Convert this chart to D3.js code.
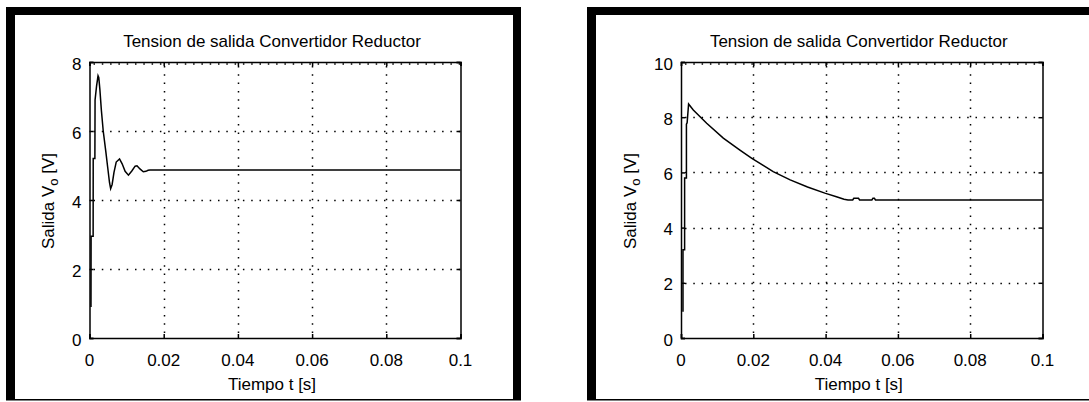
<!DOCTYPE html>
<html><head><meta charset="utf-8">
<script src="https://cdn.jsdelivr.net/npm/d3@7"></script>
<style>
html,body{margin:0;padding:0;background:#fff;}
svg{display:block;}
text{font-family:"Liberation Sans",Arial,Helvetica,sans-serif;fill:#000;}
</style></head><body>
<svg id="fig" width="1089" height="402"></svg>
<script>
// Texts shared by both figures
const chartTitle = "Tension de salida Convertidor Reductor";
const xLabel = "Tiempo t [s]";
const yLabelMain = "Salida V";
const yLabelSub = "o";
const yLabelTail = " [V]";

// Axis ticks
const xTicks = [0, 0.02, 0.04, 0.06, 0.08, 0.1];
const xTickLabels = ["0", "0.02", "0.04", "0.06", "0.08", "0.1"];
const yTicksLeft = [0, 2, 4, 6, 8];
const yTicksRight = [0, 2, 4, 6, 8, 10];

// Output voltage, first simulation (underdamped response)
const tLeft = [0.0004, 0.00043, 0.00098, 0.001, 0.00145, 0.0015, 0.0019, 0.0023, 0.0025, 0.0028,
  0.0032, 0.0037, 0.0044, 0.0049, 0.0054, 0.0057, 0.0061, 0.0066, 0.0072, 0.0081,
  0.0088, 0.0096, 0.0105, 0.0114, 0.0123, 0.0128, 0.0136, 0.0145, 0.0152, 0.0158,
  0.0163, 0.1];
const vLeft = [0.9, 2.95, 2.95, 5.2, 5.2, 6.9, 7.3, 7.6, 7.55, 7.2,
  6.6, 6.0, 5.4, 4.95, 4.5, 4.33, 4.45, 4.8, 5.1, 5.19,
  5.05, 4.83, 4.72, 4.84, 4.98, 4.99, 4.9, 4.82, 4.83, 4.86,
  4.87, 4.87];

// Output voltage, second simulation (overshoot with slow decay)
const tRight = [0.00055, 0.00055, 0.001, 0.001, 0.0015, 0.0015, 0.0017, 0.0021, 0.0034, 0.0071,
  0.0117, 0.0163, 0.0196, 0.0255, 0.0302, 0.035, 0.0398, 0.043, 0.0451, 0.0462,
  0.0475, 0.0478, 0.0491, 0.0494, 0.0528, 0.0531, 0.0535, 0.0538, 0.1];
const vRight = [0.95, 3.2, 3.2, 5.8, 5.8, 7.75, 7.8, 8.48, 8.26, 7.78,
  7.24, 6.81, 6.51, 6.03, 5.73, 5.47, 5.25, 5.12, 5.03, 5.0,
  5.0, 5.06, 5.06, 5.0, 5.0, 5.06, 5.06, 5.0, 5.0];

const svg = d3.select("#fig");

function drawPanel(p) {
  const g = svg.append("g");

  // window frame
  g.append("rect").attr("x", p.fx).attr("y", p.fy).attr("width", p.fw).attr("height", 8).attr("fill", "#000");
  g.append("rect").attr("x", p.fx).attr("y", p.fy).attr("width", 9).attr("height", 400 - p.fy).attr("fill", "#000");
  if (p.rightBar) {
    g.append("rect").attr("x", p.fx + p.fw - 8).attr("y", p.fy).attr("width", 8).attr("height", 400 - p.fy).attr("fill", "#000");
  }
  g.append("rect").attr("x", p.fx).attr("y", 399).attr("width", p.fw).attr("height", 1.5).attr("fill", "#000");

  const x = d3.scaleLinear().domain([0, 0.1]).range([p.x0, p.x1]);
  const y = d3.scaleLinear().domain([0, p.yMax]).range([p.y1, p.y0]);

  // dotted grid
  const grid = g.append("g").attr("stroke", "#000").attr("stroke-width", 1.5)
    .attr("stroke-dasharray", "1.5 6.8").attr("fill", "none");
  grid.selectAll("line.gx").data(xTicks.slice(1, -1)).join("line")
    .attr("x1", d => Math.round(x(d)) + 0.5).attr("x2", d => Math.round(x(d)) + 0.5)
    .attr("y1", p.y0 + 4).attr("y2", p.y1);
  grid.selectAll("line.gy").data(p.yTicks.slice(1)).join("line")
    .attr("y1", d => Math.round(y(d)) + (d === p.yMax ? 2 : 0.5)).attr("y2", d => Math.round(y(d)) + (d === p.yMax ? 2 : 0.5))
    .attr("x1", p.x0 + 4).attr("x2", p.x1);

  // axes via d3 axis generators (inward ticks, labels drawn separately)
  const axB = d3.axisBottom(x).tickValues(xTicks).tickSize(-4).tickFormat("");
  const axT = d3.axisTop(x).tickValues(xTicks).tickSize(-4).tickFormat("");
  const axL = d3.axisLeft(y).tickValues(p.yTicks).tickSize(-4).tickFormat("");
  const axR = d3.axisRight(y).tickValues(p.yTicks).tickSize(-4).tickFormat("");
  const styleAxis = sel => {
    sel.selectAll("path,line").attr("stroke", "#000").attr("stroke-width", 1.5);
  };
  g.append("g").attr("transform", `translate(0,${p.y1})`).call(axB).call(styleAxis);
  g.append("g").attr("transform", `translate(0,${p.y0})`).call(axT).call(styleAxis);
  g.append("g").attr("transform", `translate(${p.x0},0)`).call(axL).call(styleAxis);
  g.append("g").attr("transform", `translate(${p.x1},0)`).call(axR).call(styleAxis);
  g.selectAll(".domain").attr("stroke", "#000").attr("stroke-width", 1.5);

  // tick labels
  g.selectAll("text.xt").data(xTicks).join("text")
    .attr("x", d => x(d)).attr("y", 365.5).attr("text-anchor", "middle")
    .attr("font-size", 17).text((d, i) => xTickLabels[i]);
  g.selectAll("text.yt").data(p.yTicks).join("text")
    .attr("x", p.x0 - 8).attr("y", d => y(d) + 7.5).attr("text-anchor", "end")
    .attr("font-size", 17).text(d => d);

  // titles
  const cx = (p.x0 + p.x1) / 2 - 3;
  g.append("text").attr("x", cx).attr("y", 46.5).attr("text-anchor", "middle")
    .attr("font-size", 17).text(chartTitle);
  g.append("text").attr("x", cx).attr("y", 390).attr("text-anchor", "middle")
    .attr("font-size", 17).text(xLabel);
  const yl = g.append("text").attr("transform", `translate(${p.ylx},${(p.y0 + p.y1) / 2 + 1}) rotate(-90)`)
    .attr("text-anchor", "middle").attr("font-size", 17);
  yl.append("tspan").text(yLabelMain);
  yl.append("tspan").attr("font-size", 13).attr("dy", 4).text(yLabelSub);
  yl.append("tspan").attr("dy", -4).text(yLabelTail);

  // voltage curve
  const line = d3.line().x(d => x(d[0])).y(d => y(d[1]));
  g.append("path").datum(d3.zip(p.t, p.v)).attr("d", line)
    .attr("fill", "none").attr("stroke", "#000").attr("stroke-width", 1.5)
    .attr("stroke-linejoin", "miter");
}

drawPanel({ fx: 6, fy: 7, fw: 515, rightBar: true, x0: 89.5, x1: 460.5, y0: 62, y1: 338,
  yMax: 8, yTicks: yTicksLeft, ylx: 53.5, t: tLeft, v: vLeft });
drawPanel({ fx: 587, fy: 7, fw: 502, rightBar: false, x0: 681, x1: 1042.5, y0: 62, y1: 338,
  yMax: 10, yTicks: yTicksRight, ylx: 636, t: tRight, v: vRight });
</script>
</body></html>
